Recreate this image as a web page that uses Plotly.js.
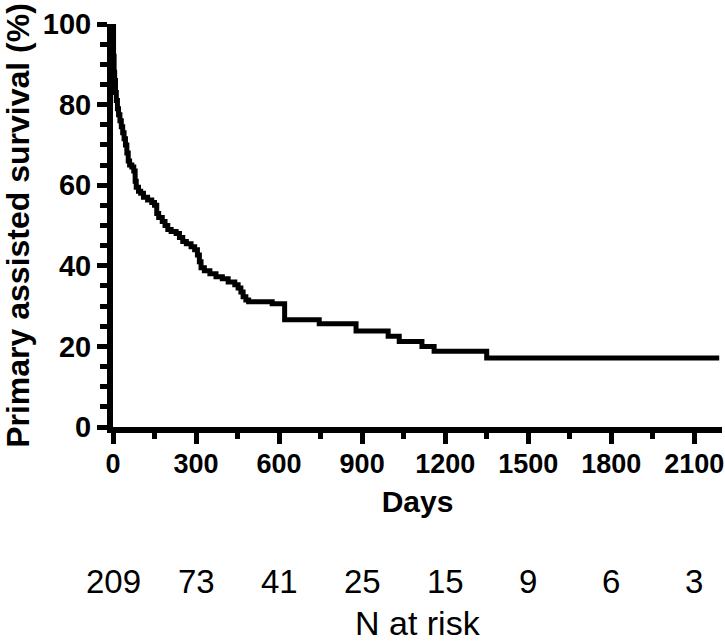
<!DOCTYPE html>
<html>
<head>
<meta charset="utf-8">
<script src="https://cdn.plot.ly/plotly-3.0.1.min.js"></script>
<style>
  html, body { margin: 0; padding: 0; background: #fff; }
  #chart { width: 725px; height: 641px; }
</style>
</head>
<body>
<div id="chart"></div>
<script>
// Kaplan-Meier steps (days, % surviving)
var days = [0, 2, 4, 6, 9, 12, 16, 20, 25, 30, 35, 40, 45, 50, 55, 60, 68, 75, 80, 84,
    92, 100, 110, 125, 140, 150, 158, 165, 178, 188, 198, 210, 228, 240, 252, 265, 282, 295,
    305, 312, 318, 330, 350, 372, 395, 416, 440, 452, 462, 470, 480, 490, 575, 620, 745,
    878, 994, 1034, 1116, 1160, 1350, 2190];
var survival = [100, 92, 88, 86, 83, 81, 79, 77.5, 76, 74.5, 73, 71.5, 70, 68, 66, 65, 64.5, 63.5, 61, 59.5,
    58.5, 58, 57, 56.3, 55.7, 55, 53, 52, 51, 50, 49, 48.5, 48, 47, 46, 45.5, 44.7, 44,
    42.7, 41, 39.5, 38.8, 38, 37.3, 36.8, 36, 35.3, 34.5, 33.5, 32.3, 31.5, 31.1, 30.6, 26.6, 25.6,
    23.8, 22.5, 21.2, 20, 18.8, 17.1, 17.1];

var riskDays = [0, 300, 600, 900, 1200, 1500, 1800, 2100];
var atRisk = [209, 73, 41, 25, 15, 9, 6, 3];

var curve = {
    type: 'scatter',
    mode: 'lines',
    x: days,
    y: survival,
    line: { color: '#000', width: 5, shape: 'hv' },
    cliponaxis: false,
    hoverinfo: 'x+y'
};

var annotations = riskDays.map(function (d, i) {
    return {
        x: d, xref: 'x',
        y: -0.383, yref: 'paper',
        text: String(atRisk[i]),
        showarrow: false,
        xanchor: 'center', yanchor: 'middle',
        font: { family: 'Liberation Sans, Arial, sans-serif', size: 33, color: '#000' }
    };
});

annotations.push({
    x: 0.5, xref: 'paper',
    y: -0.487, yref: 'paper',
    text: 'N at risk',
    showarrow: false,
    xanchor: 'center', yanchor: 'middle',
    font: { family: 'Liberation Sans, Arial, sans-serif', size: 34, color: '#000' }
});

var layout = {
    width: 725,
    height: 641,
    margin: { l: 113, r: 3, t: 24, b: 214 },
    paper_bgcolor: '#fff',
    plot_bgcolor: '#fff',
    showlegend: false,
    xaxis: {
        range: [0, 2200],
        tickmode: 'linear',
        tick0: 0,
        dtick: 300,
        ticks: 'outside',
        ticklen: 11,
        tickwidth: 5,
        tickcolor: '#000',
        showline: true,
        linewidth: 6,
        linecolor: '#000',
        showgrid: false,
        zeroline: false,
        tickfont: { family: 'Liberation Sans, Arial, sans-serif', size: 27, color: '#000', weight: 'bold' },
        ticklabeloverflow: 'allow',
        ticklabelstandoff: -3,
        minor: { dtick: 150, ticks: 'outside', ticklen: 6, tickwidth: 5, tickcolor: '#000', showgrid: false },
        title: {
            text: 'Days',
            standoff: 15,
            font: { family: 'Liberation Sans, Arial, sans-serif', size: 30, color: '#000', weight: 'bold' }
        }
    },
    yaxis: {
        range: [0, 100],
        tickmode: 'linear',
        tick0: 0,
        dtick: 20,
        ticks: 'outside',
        ticklen: 10,
        tickwidth: 5,
        tickcolor: '#000',
        showline: true,
        linewidth: 6,
        linecolor: '#000',
        showgrid: false,
        zeroline: false,
        tickfont: { family: 'Liberation Sans, Arial, sans-serif', size: 29, color: '#000', weight: 'bold' },
        minor: { dtick: 5, ticks: 'outside', ticklen: 7, tickwidth: 5, tickcolor: '#000', showgrid: false },
        title: {
            text: 'Primary assisted survival (%)',
            standoff: 10,
            font: { family: 'Liberation Sans, Arial, sans-serif', size: 32, color: '#000', weight: 'bold' }
        }
    },
    annotations: annotations
};

Plotly.newPlot('chart', [curve], layout, { displayModeBar: false, staticPlot: true });
</script>
</body>
</html>
